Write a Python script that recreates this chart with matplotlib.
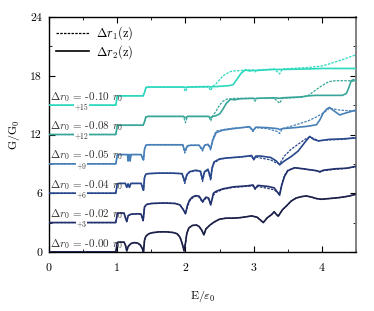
import matplotlib
matplotlib.use('Agg')
import matplotlib.pyplot as plt
from matplotlib.ticker import MultipleLocator, FuncFormatter

plt.rcParams['font.family'] = 'serif'
plt.rcParams['font.serif'] = ['cmr10', 'DejaVu Serif']
plt.rcParams['mathtext.fontset'] = 'cm'
plt.rcParams['axes.formatter.use_mathtext'] = True

# data (conductance vs energy, each curve shifted by its offset)
offsets = [0, 3, 6, 9, 12, 15]
shifts = ['-0.00', '-0.02', '-0.04', '-0.05', '-0.08', '-0.10']
colors = ['#1c1f48', '#22306e', '#27468c', '#4780b8', '#37a699', '#2ad8bd']

E_00 = [0, 0.98, 1.0, 1.02, 1.10, 1.12, 1.14, 1.16, 1.20, 1.25, 1.30, 1.34, 1.37, 1.385, 1.40, 1.42, 1.46,
        1.52, 1.62, 1.72, 1.82, 1.88, 1.92, 1.95, 1.98, 2.00, 2.02, 2.05, 2.10, 2.16, 2.20, 2.24, 2.27, 2.30,
        2.36, 2.42, 2.50, 2.60, 2.70, 2.80, 2.90, 2.97, 3.05, 3.10, 3.14, 3.20, 3.26, 3.30, 3.33, 3.36, 3.42,
        3.48, 3.55, 3.62, 3.70, 3.77, 3.85, 3.92, 3.99, 4.05, 4.15, 4.25, 4.35, 4.42, 4.5]
G_00 = [0, 0, 0.95, 1.0, 1.0, 0.7, 0.1, 0.55, 0.85, 0.95, 0.9, 0.7, 0.3, 0.0, 1.2, 1.6, 1.85,
        1.97, 2.05, 2.05, 1.98, 1.85, 1.5, 0.9, 0.1, 0.9, 1.9, 2.45, 2.7, 2.75, 2.6, 2.2, 1.75, 2.35,
        2.75, 3.05, 3.35, 3.45, 3.45, 3.5, 3.6, 3.68, 3.55, 3.25, 3.0, 3.5, 3.8, 4.1, 3.85, 3.65, 4.3,
        4.7, 5.2, 5.5, 5.65, 5.72, 5.6, 5.45, 5.38, 5.42, 5.48, 5.55, 5.65, 5.75, 5.9]

E_02 = [0, 0.98, 1.0, 1.02, 1.10, 1.12, 1.14, 1.16, 1.20, 1.30, 1.35, 1.38, 1.40, 1.43, 1.5, 1.7, 1.85,
        1.92, 1.97, 2.0, 2.03, 2.06, 2.10, 2.15, 2.20, 2.25, 2.30, 2.34, 2.37, 2.41, 2.45, 2.55, 2.7, 2.9,
        2.99, 3.02, 3.06, 3.2, 3.3, 3.38, 3.41, 3.45, 3.5, 3.6, 3.72, 3.92, 3.97, 4.02, 4.2, 4.36, 4.5]
G_02_r2 = [0, 0, 0.9, 0.97, 0.97, 0.5, 0.1, 0.7, 0.85, 0.9, 0.85, 0.2, 1.6, 1.85, 1.95, 2.0, 1.95,
           1.8, 1.3, 0.9, 1.8, 2.3, 2.6, 2.75, 2.7, 2.15, 2.6, 2.5, 1.8, 3.0, 3.2, 3.45, 3.65, 3.75,
           3.84, 3.45, 3.8, 3.7, 3.55, 2.8, 3.8, 4.7, 5.3, 5.6, 5.5, 5.3, 5.2, 5.35, 5.5, 5.55, 5.75]
G_02_r1 = [0, 0, 0.9, 0.97, 0.97, 0.5, 0.1, 0.7, 0.85, 0.9, 0.85, 0.2, 1.6, 1.85, 1.95, 2.0, 1.95,
           1.8, 1.3, 0.9, 1.6, 2.2, 2.5, 2.7, 2.6, 2.05, 2.5, 2.4, 1.9, 2.8, 3.1, 3.4, 3.6, 3.7,
           3.75, 3.4, 3.7, 3.5, 3.35, 2.9, 3.9, 4.8, 5.35, 5.6, 5.5, 5.3, 5.15, 5.3, 5.45, 5.55, 5.7]

E_04 = [0, 0.98, 1.0, 1.02, 1.12, 1.14, 1.16, 1.18, 1.20, 1.22, 1.35, 1.37, 1.385, 1.40, 1.42, 1.45, 1.6,
        1.8, 1.95, 1.99, 2.02, 2.06, 2.15, 2.22, 2.25, 2.28, 2.33, 2.37, 2.39, 2.42, 2.5, 2.6, 2.8, 2.97,
        3.0, 3.03, 3.1, 3.25, 3.33, 3.38, 3.45, 3.55, 3.65, 3.75, 3.82, 3.88, 3.95, 4.1, 4.3, 4.5]
G_04_r2 = [0, 0, 0.95, 1.0, 1.0, 0.6, 0.95, 0.6, 1.0, 1.0, 1.0, 0.6, 0.3, 1.6, 1.95, 2.0, 2.05,
           2.05, 2.0, 1.2, 1.9, 2.2, 2.35, 2.25, 1.4, 2.2, 2.45, 1.5, 2.6, 3.2, 3.5, 3.6, 3.7, 3.85,
           3.45, 3.8, 3.8, 3.65, 3.3, 2.9, 3.3, 3.75, 4.3, 5.2, 5.8, 5.5, 5.35, 5.5, 5.55, 5.65]
G_04_r1 = [0, 0, 0.95, 1.0, 1.0, 0.6, 0.95, 0.6, 1.0, 1.0, 1.0, 0.6, 0.3, 1.6, 1.95, 2.0, 2.05,
           2.05, 2.0, 1.0, 1.8, 2.15, 2.3, 2.2, 1.2, 2.1, 2.4, 1.3, 2.5, 3.1, 3.45, 3.6, 3.7, 3.8,
           3.4, 3.7, 3.6, 3.4, 3.1, 3.0, 3.8, 4.5, 5.0, 5.5, 5.75, 5.6, 5.35, 5.45, 5.5, 5.7]

E_05 = [0, 0.98, 1.0, 1.02, 1.15, 1.16, 1.17, 1.18, 1.19, 1.20, 1.21, 1.35, 1.37, 1.385, 1.40, 1.42, 1.45,
        1.7, 1.96, 1.99, 2.03, 2.08, 2.2, 2.25, 2.28, 2.33, 2.37, 2.40, 2.45, 2.55, 2.7, 2.94, 2.99, 3.03,
        3.2, 3.35, 3.38, 3.42, 3.6, 3.8, 3.92, 3.97, 4.02, 4.07, 4.11, 4.18, 4.26, 4.35, 4.5]
G_05_r2 = [0, 0, 0.9, 0.95, 0.95, 0.3, 0.95, 0.95, 0.3, 0.95, 0.95, 0.95, 0.6, 0.4, 1.5, 1.9, 1.95,
           1.95, 1.95, 1.3, 1.85, 1.9, 1.9, 1.45, 1.9, 2.0, 1.6, 2.4, 3.2, 3.45, 3.6, 3.8, 3.4, 3.75,
           3.7, 3.6, 3.5, 3.6, 3.7, 3.85, 4.0, 4.5, 5.2, 5.6, 5.77, 5.4, 5.0, 5.2, 5.5]
G_05_r1 = [0, 0, 0.9, 0.95, 0.95, 0.3, 0.95, 0.95, 0.3, 0.95, 0.95, 0.95, 0.6, 0.4, 1.5, 1.9, 1.95,
           1.95, 1.95, 1.1, 1.8, 1.9, 1.9, 1.3, 1.9, 2.0, 1.4, 2.6, 3.35, 3.5, 3.65, 3.75, 3.3, 3.7,
           3.6, 3.3, 3.1, 3.6, 3.95, 4.4, 4.8, 5.0, 5.2, 5.45, 5.7, 5.6, 5.5, 5.45, 5.4]

E_08 = [0, 0.98, 1.0, 1.02, 1.38, 1.40, 1.42, 1.45, 1.97, 2.0, 2.03, 2.34, 2.37, 2.40, 2.44, 2.50, 2.55,
        2.60, 2.66, 2.72, 2.8, 2.99, 3.02, 3.05, 3.3, 3.38, 3.42, 3.7, 3.8, 3.9, 4.0, 4.1, 4.2, 4.3,
        4.36, 4.40, 4.43, 4.46, 4.5]
G_08_r2 = [0, 0, 0.9, 0.95, 0.95, 1.3, 1.8, 1.85, 1.85, 1.7, 1.85, 1.85, 1.7, 1.85, 1.9, 2.1, 2.6,
           3.2, 3.6, 3.55, 3.65, 3.7, 3.65, 3.7, 3.75, 3.7, 3.75, 3.85, 3.95, 4.0, 4.0, 4.0, 4.0, 4.0,
           4.2, 4.9, 5.5, 5.6, 5.5]
G_08_r1 = [0, 0, 0.9, 0.95, 0.95, 1.3, 1.8, 1.85, 1.85, 1.2, 1.85, 1.85, 1.4, 1.9, 2.3, 3.0, 3.4,
           3.6, 3.65, 3.7, 3.7, 3.7, 3.4, 3.7, 3.7, 3.2, 3.7, 3.8, 4.0, 4.5, 5.0, 5.4, 5.5, 5.5,
           5.5, 5.5, 5.45, 5.45, 5.45]

E_10 = [0, 0.98, 1.0, 1.02, 1.38, 1.40, 1.42, 1.45, 1.97, 2.0, 2.03, 2.34, 2.37, 2.40, 2.45, 2.55, 2.65,
        2.70, 2.75, 2.82, 2.88, 2.94, 2.99, 3.02, 3.05, 3.3, 3.38, 3.42, 3.8, 4.0, 4.1, 4.3, 4.5]
G_10_r2 = [0, 0, 0.9, 0.95, 0.95, 1.3, 1.8, 1.85, 1.85, 1.8, 1.85, 1.9, 1.85, 1.9, 1.9, 1.95, 2.0,
           2.1, 2.6, 3.3, 3.6, 3.5, 3.55, 3.55, 3.55, 3.65, 3.65, 3.65, 3.7, 3.75, 3.75, 3.75, 3.75]
G_10_r1 = [0, 0, 0.9, 0.95, 0.95, 1.3, 1.8, 1.85, 1.85, 1.4, 1.85, 1.85, 1.5, 1.9, 2.2, 3.0, 3.4,
           3.5, 3.5, 3.55, 3.6, 3.6, 3.6, 3.4, 3.6, 3.7, 3.2, 3.7, 3.85, 4.0, 4.2, 4.65, 5.15]

E_list = [E_00, E_02, E_04, E_05, E_08, E_10]
r1_list = [G_00, G_02_r1, G_04_r1, G_05_r1, G_08_r1, G_10_r1]
r2_list = [G_00, G_02_r2, G_04_r2, G_05_r2, G_08_r2, G_10_r2]

fig = plt.figure(figsize=(3.74, 3.11), dpi=100)
ax = fig.add_axes([0.131, 0.19, 0.821, 0.755])

for off, s, c, E, g1, g2 in zip(offsets, shifts, colors, E_list, r1_list, r2_list):
    ax.plot(E, [v + off for v in g2], '-', color=c, lw=1.2, zorder=3)
    ax.plot(E, [v + off for v in g1], '--', color=c, lw=0.9, dashes=(2, 1), zorder=3)
    # curve label sits just above its baseline
    ax.text(0.015, off + 0.85, r'$\Delta r_0$ = ' + s + r' $r_0$', fontsize=8, color='#333333',
            ha='left', va='center', zorder=4)
    if off > 0:
        ax.text(0.48, off - 0.2, '+%d' % off, fontsize=5.5, color='#333333', ha='center', va='center',
                bbox=dict(fc='white', ec='none', pad=0.5), zorder=4)

ax.plot([], [], '--', color='black', lw=0.9, dashes=(2, 1), label=r'$\Delta r_1$(z)')
ax.plot([], [], '-', color='black', lw=1.2, label=r'$\Delta r_2$(z)')
ax.legend(loc='upper left', frameon=False, fontsize=9, handlelength=2.6, handletextpad=0.6,
          borderaxespad=0.2, labelspacing=0.05, bbox_to_anchor=(0.0, 1.0))

ax.set_xlim(0, 4.5)
ax.set_ylim(0, 24)
ax.xaxis.set_major_locator(MultipleLocator(1))
ax.xaxis.set_minor_locator(MultipleLocator(0.5))
ax.yaxis.set_major_locator(MultipleLocator(6))
ax.yaxis.set_minor_locator(MultipleLocator(3))
ax.xaxis.set_major_formatter(FuncFormatter(lambda v, p: '%d' % v))
ax.yaxis.set_major_formatter(FuncFormatter(lambda v, p: '%d' % v))
ax.tick_params(which='both', direction='in', top=True, right=True, labelsize=8.5)
ax.tick_params(which='major', length=4)
ax.tick_params(which='minor', length=2.5)
ax.tick_params(axis='x', pad=8)
ax.tick_params(axis='y', pad=5)
for sp in ax.spines.values():
    sp.set_linewidth(1.0)
ax.spines['right'].set_color('#777777')
ax.spines['right'].set_linewidth(1.3)

ax.set_xlabel(r'E/$\varepsilon_0$', fontsize=8.5, labelpad=12)
ax.set_ylabel(r'G/G$_0$', fontsize=8.5, labelpad=6)

fig.savefig('out.png', dpi=100)
